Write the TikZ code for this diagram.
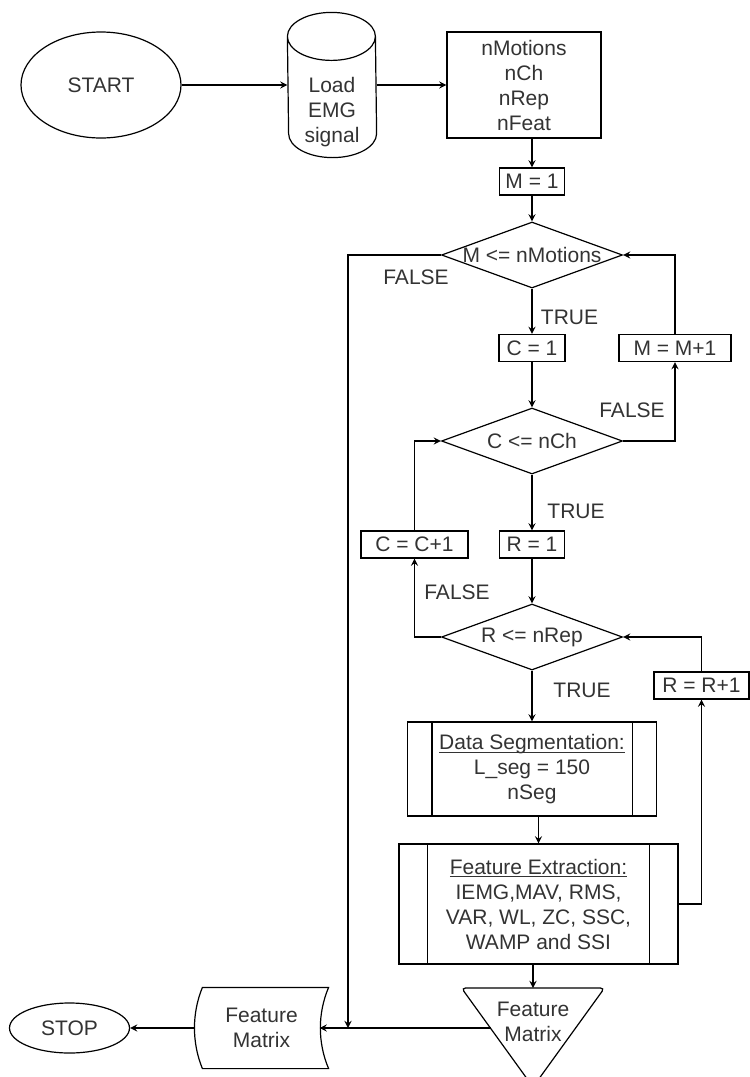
\documentclass[tikz,border=0pt]{standalone}
\usepackage{fontspec}
\setmainfont{Liberation Sans}
\usetikzlibrary{shapes.geometric}

% underline just under the baseline, as the drawing tool does
\newcommand{\ulhead}[1]{\underline{\raisebox{0pt}[\height][0pt]{#1}}}

\begin{document}
\begin{tikzpicture}[
    x=0.5pt, y=-0.5pt,
    >=stealth,
    line width=0.6pt,
    every node/.style={align=center, inner sep=0pt, text=black!80,
      font=\fontsize{10.5}{12.5}\selectfont},
    box/.style={draw, rectangle, minimum height=13.5pt},
    decision/.style={draw, diamond, aspect=2.74, minimum width=90.5pt, minimum height=33pt},
    term/.style={draw, ellipse},
    arrow/.style={->, draw=black}
]
  \path[use as bounding box, clip] (0,0) rectangle (750,1077);

  % top row
  \node[term, minimum width=80pt, minimum height=53pt] (start) at (101,85) {START};
  \node[minimum width=44pt, minimum height=72pt] (emg) at (332,85) {};
  \node (emgtxt) at (332,112) {Load\\EMG\\signal};
  \node[box, minimum width=77pt, minimum height=53pt] (params) at (524,85) {nMotions\\nCh\\nRep\\nFeat};

  % motion loop
  \node[box, minimum width=32.5pt] (m1) at (532,181.5) {M = 1};
  \node[decision] (mdec) at (532,255) {\makebox[0pt]{M <= nMotions}};
  \node[box, minimum width=33pt] (c1) at (532,348) {C = 1};
  \node[box, minimum width=56pt] (minc) at (675,348) {M = M+1};

  % channel loop
  \node[decision] (cdec) at (532,441) {C <= nCh};
  \node[box, minimum width=32.5pt] (r1) at (532,544.5) {R = 1};
  \node[box, minimum width=53.5pt] (cinc) at (414.5,544.5) {C = C+1};

  % repetition loop
  \node[decision] (rdec) at (532,637) {R <= nRep};
  \node[box, minimum width=47.5pt] (rinc) at (701.5,685.5) {R = R+1};
  \node[box, minimum width=124.5pt, minimum height=47pt] (seg) at (532,769)
    {\ulhead{Data Segmentation:}\\L\_seg = 150\\nSeg};
  \node[box, minimum width=139.5pt, minimum height=60pt] (fe) at (538.5,904)
    {\ulhead{Feature Extraction:}\\IEMG,MAV, RMS,\\VAR, WL, ZC, SSC,\\WAMP and SSI};

  % output
  \node (fmat) at (533,1022) {Feature\\Matrix};
  \node[minimum width=66.5pt, minimum height=40pt] (store) at (261.5,1028) {Feature\\Matrix};
  \node[term, minimum width=60pt, minimum height=25pt] (stop) at (69.5,1028) {STOP};
  \coordinate (fmtop) at ([yshift=17pt]fmat.center);
  \coordinate (fmleft) at ([shift={(-21pt,-3pt)}]fmat.center);
  \coordinate (join) at (348,1028);

  % shapes drawn by hand
  \draw ([yshift=-12pt]emg.north west) arc[start angle=180, end angle=360, x radius=22pt, y radius=12pt]
    -- ([yshift=12pt]emg.south east) arc[start angle=0, end angle=-180, x radius=22pt, y radius=12pt] -- cycle
    ([yshift=-12pt]emg.north west) arc[start angle=180, end angle=0, x radius=22pt, y radius=12pt];
  \foreach \n/\d in {seg/12.5pt, fe/14.5pt}
    \draw ([xshift=\d]\n.north west) -- ([xshift=\d]\n.south west)
      ([xshift=-\d]\n.north east) -- ([xshift=-\d]\n.south east);
  \draw[rounded corners=2pt] ([shift={(-35.75pt,17pt)}]fmat.center) -- ([shift={(35.75pt,17pt)}]fmat.center)
    -- ([shift={(0pt,-32.5pt)}]fmat.center) -- cycle;
  \draw ([xshift=4pt]store.north west) -- (store.north east)
    .. controls ([shift={(-5.5pt,-13pt)}]store.north east) and ([shift={(-5.5pt,13pt)}]store.south east) .. (store.south east)
    -- ([xshift=4pt]store.south west)
    .. controls ([shift={(-1.3pt,13pt)}]store.south west) and ([shift={(-1.3pt,-13pt)}]store.north west) .. ([xshift=4pt]store.north west)
    -- cycle;

  % labels
  \node (tm) at (569.5,317) {TRUE};
  \node (fm) at (416,277) {FALSE};
  \node (fc) at (632,410) {FALSE};
  \node (tc) at (576,511) {TRUE};
  \node (fr) at (457,592) {FALSE};
  \node (tr) at (582,690) {TRUE};

  \draw[arrow] (start) -- (emg);
  \draw[arrow] (emg) -- (params);
  \draw[arrow] (params.south -| m1.north) -- (m1.north);
  \draw[arrow] (m1) -- (mdec);
  \draw[arrow] (mdec) -- (c1);
  \draw[arrow] (c1) -- (cdec);
  \draw[arrow] (cdec.east) -| (minc.south);
  \draw[arrow] (minc.north) |- (mdec.east);
  \draw[arrow] (cdec) -- (r1);
  \draw[arrow] (r1) -- (rdec);
  \draw[arrow] (rdec.west) -| (cinc.south);
  \draw[arrow] (cinc.north) |- (cdec.west);
  \draw[arrow] (rdec) -- (seg);
  \draw[arrow] (seg.south -| fe.north) -- (fe.north);
  \draw[arrow] (fe.east) -| (rinc.south);
  \draw[arrow] (rinc.north) |- (rdec.east);
  \draw[arrow] (fe.south -| fmtop) -- (fmtop);
  \draw[arrow] (mdec.west) -| (join);
  \draw[arrow] (fmleft) -- ([xshift=-4.5pt]store.east);
  \draw[arrow] (store.west) -- (stop.east);
\end{tikzpicture}
\end{document}
